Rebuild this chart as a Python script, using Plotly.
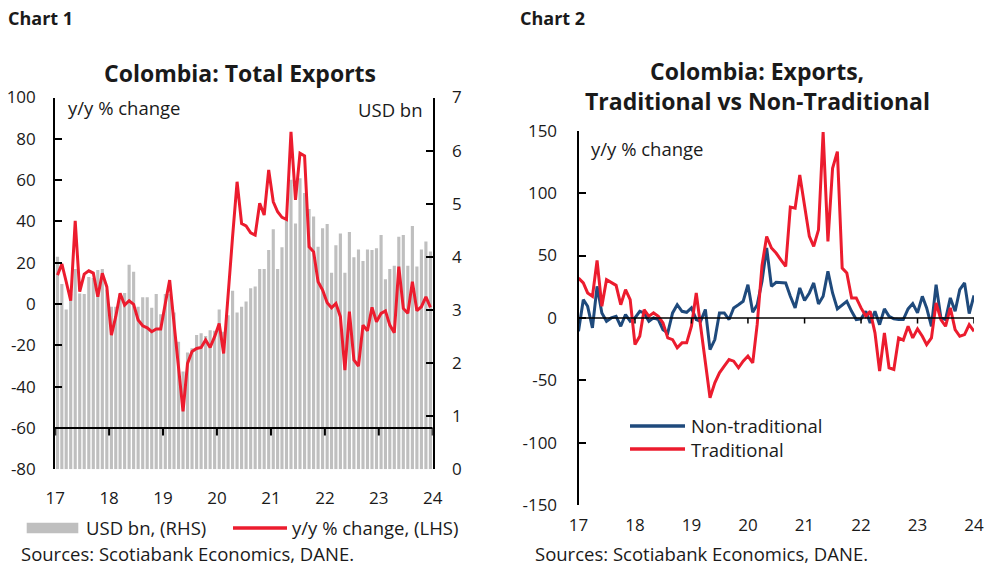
import plotly.graph_objects as go
import pandas as pd

# ---------------- data ----------------
months1 = pd.date_range("2017-01-01", periods=84, freq="MS")
months2 = pd.date_range("2017-01-01", periods=85, freq="MS")
year_ticks = pd.date_range("2017-01-01", "2024-01-01", freq="YS")
year_labels = ["17", "18", "19", "20", "21", "22", "23", "24"]

exports_usd = [4.00, 3.49, 3.01, 3.30, 3.77, 3.31, 3.30, 3.62, 3.60, 3.75, 3.77, 3.38,
               3.06, 3.06, 3.30, 3.32, 3.85, 3.72, 3.06, 3.24, 3.24, 3.04, 3.30, 2.92,
               3.30, 3.30, 2.95, 2.40, 1.84, 2.20, 2.28, 2.53, 2.56, 2.51, 2.62, 2.61,
               3.01, 2.59, 2.90, 3.36, 2.95, 3.06, 3.16, 3.41, 3.44, 3.77, 3.77, 4.13,
               4.52, 3.77, 4.18, 4.69, 5.45, 4.63, 5.48, 5.20, 4.90, 4.76, 4.19, 4.54,
               4.62, 3.70, 4.22, 4.44, 3.70, 4.47, 3.99, 4.14, 3.92, 4.14, 4.13, 4.16,
               4.41, 3.58, 3.77, 3.83, 4.38, 4.41, 3.83, 4.58, 3.82, 4.14, 4.29, 4.10]

exports_yoy = [14, 19.4, 10.8, 1.6, 40.3, 6, 14.5, 16.1, 15, 3.5, 14.9, 8.4,
               -15, -6.1, 5.2, -0.5, 1.6, -0.1, -7.7, -10.5, -11.5, -13.4, -12.1, -12.1,
               0.3, 11.6, -9.3, -32, -52, -28.7, -23, -21.5, -21, -17.4, -21, -15.8,
               -9.4, -23.9, 5.2, 32.6, 59.2, 39, 37.8, 34.5, 33.4, 48.8, 43.1, 64.9,
               49.5, 44.7, 42, 41, 83.4, 50.4, 73, 71.7, 27.7, 25.3, 10.8, 6.8,
               0.6, -1.8, 0.3, -6.1, -32, -3.7, -27, -30, -10.2, -12.9, -1.6, -8.6,
               -4.5, -3.3, -10.2, -13.9, 18.1, -2.1, -4.5, 10.8, -3.2, -1.3, 3.5, -1.6]

nontrad_yoy = [-10.7, 14.6, 9.3, -8, 25.3, 4, -2.7, 0, 1.3, -6.7, 2.7, -2.7,
               0, 5.3, 4, -2.7, 0, -1.3, -9.4, -12, 4, 10.6, 5.3, 4.5,
               8, -1.3, -2.7, 6.7, -25.4, -17.4, 4, 4, -1.3, 8, 10.6, 13.3,
               26.6, 4.5, 10.6, 29.3, 56, 25.3, 28.5, 28, 28, 17.3, 8, 24,
               13.9, 20, 28, 11.2, 17.3, 37.3, 20, 7.2, 10.6, 13.3, 5.3, -1.3,
               -0.8, 5.3, -4, 5.3, -5.4, 7.2, 1.3, -0.8, -1.3, -1.3, 7.2, 11.5,
               4, 17.3, 8, -6.7, 26.6, 0, -1.3, 16, 5.3, 22.6, 28, 3.5, 18]

trad_yoy = [32, 28, 20, 17.3, 46, 9.3, 30.6, 28, 26.1, 10.6, 22.6, 14.6,
            -21.4, -14.7, 6.6, 1.3, 4, 1.3, -4, -16, -17.4, -24, -20, -20,
            -6.7, 20, -6.7, -38.7, -64, -52, -44, -38.7, -33.4, -34.7, -40, -34.7,
            -30.6, -36, -5, 42, 65.3, 56, 52, 46.6, 41.3, 88.8, 88, 114.6,
            89, 65.3, 57.3, 70.6, 149, 61.3, 120, 133.3, 40, 36, 16, 16,
            8, 1.3, 5.3, -12, -42.7, -12, -40, -41.3, -16, -17.8, -6.7, -16,
            -8.8, -14.7, -21.4, -16, 12, -1.3, -6.7, 8, -9.4, -14.7, -13.4, -5.4, -10.7]

yoy1_ticks = [-80, -60, -40, -20, 0, 20, 40, 60, 80, 100]
usd_ticks = [0, 1, 2, 3, 4, 5, 6, 7]
yoy2_ticks = [-150, -100, -50, 0, 50, 100, 150]

# ---------------- style ----------------
FONT = "Open Sans"
TXT = "#1a1a1a"
RED = "#EC1C2E"
BLUE = "#1F4A7C"
GRAY = "#BFBFBF"
W, H = 994, 579
TXT_SIZE = 18.5
TITLE_SIZE = 23


def px(x):
    return x / W


def py(y):
    return 1 - y / H


def hy(v):
    return "-" + str(abs(v)) if v < 0 else str(v)


fig = go.Figure()
fig.add_trace(go.Bar(x=months1, y=exports_usd, xperiod="M1", xperiodalignment="middle",
                     marker=dict(color=GRAY, line=dict(width=0)), xaxis="x", yaxis="y",
                     name="USD bn, (RHS)"))
fig.add_trace(go.Scatter(x=months1, y=exports_yoy, xperiod="M1", xperiodalignment="middle",
                         mode="lines", line=dict(color=RED, width=3), xaxis="x", yaxis="y2",
                         name="y/y % change, (LHS)"))
fig.add_trace(go.Scatter(x=months2, y=nontrad_yoy, mode="lines", line=dict(color=BLUE, width=3),
                         xaxis="x2", yaxis="y3", name="Non-traditional"))
fig.add_trace(go.Scatter(x=months2, y=trad_yoy, mode="lines", line=dict(color=RED, width=3),
                         xaxis="x2", yaxis="y3", name="Traditional"))

axis_common = dict(showgrid=False, zeroline=False, linecolor="black", tickcolor="black",
                   automargin=False, tickfont=dict(family=FONT, size=17, color=TXT))

fig.update_layout(
    width=W, height=H, margin=dict(l=0, r=0, t=0, b=0, pad=0, autoexpand=False),
    paper_bgcolor="white", plot_bgcolor="white", showlegend=False, bargap=0.28,
    font=dict(family=FONT, size=16, color=TXT),
    xaxis=dict(domain=[px(55.2), px(432.7)], anchor="y", type="date",
               range=["2017-01-01", "2024-01-01"], tickvals=list(year_ticks), ticktext=year_labels,
               showline=False, ticks="", ticklabelstandoff=17, **axis_common),
    yaxis=dict(domain=[py(469.3), py(97.5)], anchor="x", side="right", range=[0, 7],
               tickvals=usd_ticks, ticktext=[str(v) for v in usd_ticks],
               showline=True, linewidth=2, ticks="inside", ticklen=7, tickwidth=2,
               ticklabelstandoff=14, **axis_common),
    yaxis2=dict(overlaying="y", anchor="x", side="left", range=[-80, 100],
                tickvals=yoy1_ticks, ticktext=[hy(v) for v in yoy1_ticks],
                showline=True, linewidth=2, ticks="inside", ticklen=7, tickwidth=2,
                ticklabelstandoff=14, **axis_common),
    xaxis2=dict(domain=[px(578.5), px(974)], anchor="y3", type="date",
                range=["2017-01-01", "2024-01-01"], tickvals=list(year_ticks), ticktext=year_labels,
                showline=False, ticks="", ticklabelstandoff=8, **axis_common),
    yaxis3=dict(domain=[py(505), py(130.8)], anchor="x2", range=[-150, 150],
                tickvals=yoy2_ticks, ticktext=[hy(v) for v in yoy2_ticks],
                showline=True, linewidth=2, ticks="inside", ticklen=7, tickwidth=2,
                ticklabelstandoff=16, **axis_common),
)

shapes = []
# chart 1: horizontal axis line at -60 with year ticks
shapes.append(dict(type="line", xref="x", yref="y2", x0=year_ticks[0], x1=year_ticks[-1],
                   y0=-60, y1=-60, line=dict(color="black", width=2), layer="above"))
for t in year_ticks:
    shapes.append(dict(type="line", xref="x", yref="y2", x0=t, x1=t, y0=-60, y1=-63.6,
                       line=dict(color="black", width=2), layer="above"))
# chart 2: zero line with year ticks
shapes.append(dict(type="line", xref="x2", yref="y3", x0=year_ticks[0], x1=year_ticks[-1],
                   y0=0, y1=0, line=dict(color="black", width=1.5), layer="above"))
for t in year_ticks:
    shapes.append(dict(type="line", xref="x2", yref="y3", x0=t, x1=t, y0=0, y1=-4.5,
                       line=dict(color="black", width=1.5), layer="above"))
# legend swatches
shapes.append(dict(type="rect", xref="paper", yref="paper", x0=px(26.7), x1=px(78.3),
                   y0=py(533.3), y1=py(522.7), fillcolor=GRAY, line=dict(width=0)))
shapes.append(dict(type="line", xref="paper", yref="paper", x0=px(233), x1=px(287),
                   y0=py(528), y1=py(528), line=dict(color=RED, width=3.5)))
shapes.append(dict(type="line", xref="paper", yref="paper", x0=px(630), x1=px(685),
                   y0=py(426), y1=py(426), line=dict(color=BLUE, width=3.5)))
shapes.append(dict(type="line", xref="paper", yref="paper", x0=px(630), x1=px(685),
                   y0=py(449), y1=py(449), line=dict(color=RED, width=3.5)))
fig.update_layout(shapes=shapes)


def ann(text, x, y, size=TXT_SIZE, xanchor="left", bold=False):
    if bold:
        text = "<b>" + text + "</b>"
    return dict(text=text, x=px(x), y=py(y), xref="paper", yref="paper", xanchor=xanchor,
                yanchor="middle", showarrow=False, font=dict(family=FONT, size=size, color=TXT))


annotations = [
    ann("Chart 1", 6, 18, size=18, bold=True),
    ann("Chart 2", 518, 18, size=18, bold=True),
    ann("Colombia: Total Exports", 240, 73, size=TITLE_SIZE, xanchor="center", bold=True),
    ann("Colombia: Exports,", 757, 71, size=TITLE_SIZE, xanchor="center", bold=True),
    ann("Traditional vs Non-Traditional", 757, 101, size=TITLE_SIZE, xanchor="center", bold=True),
    ann("y/y % change", 66, 107),
    ann("USD bn", 425, 110, xanchor="right"),
    ann("y/y % change", 589, 148),
    ann("USD bn, (RHS)", 84, 527),
    ann("y/y % change, (LHS)", 290, 527),
    ann("Sources: Scotiabank Economics, DANE.", 19, 553),
    ann("Non-traditional", 689, 426),
    ann("Traditional", 689, 449),
    ann("Sources: Scotiabank Economics, DANE.", 533, 553),
]
fig.update_layout(annotations=annotations)

fig.write_html("out.html", config={"displayModeBar": False},
               post_script="document.body.style.margin='0';document.body.style.padding='0';"
                           "window.dispatchEvent(new Event('resize'));")
